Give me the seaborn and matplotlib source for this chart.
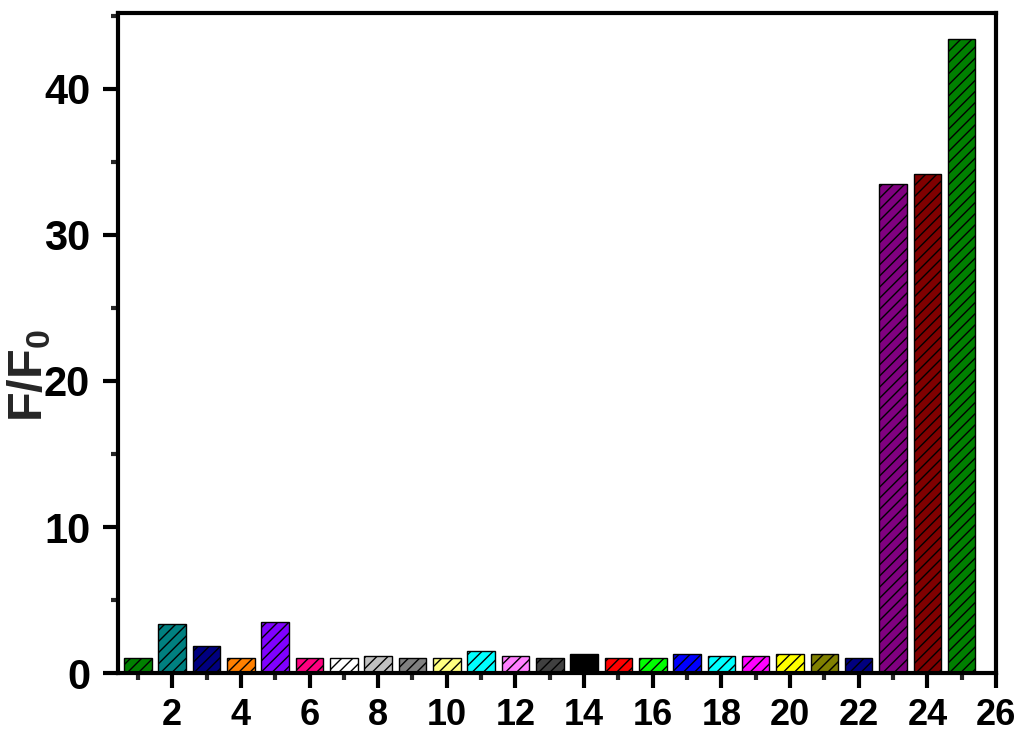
import matplotlib
matplotlib.use("Agg")
import matplotlib.pyplot as plt
from matplotlib.ticker import MultipleLocator
import seaborn as sns

# bar positions and F/F0 values
samples = list(range(1, 26))
ratios = [1.0, 3.35, 1.85, 1.0, 3.5, 1.0, 1.0, 1.2, 1.0, 1.0,
          1.5, 1.15, 1.0, 1.3, 1.0, 1.0, 1.3, 1.2, 1.2, 1.3,
          1.3, 1.0, 33.5, 34.2, 43.4]
bar_colors = ["#008000", "#008080", "#000080", "#FF8000", "#8000FF",
              "#FF0080", "#FFFFFF", "#C0C0C0", "#808080", "#FFFF80",
              "#00FFFF", "#FF80FF", "#404040", "#000000", "#FF0000",
              "#00FF00", "#0000FF", "#00FFFF", "#FF00FF", "#FFFF00",
              "#808000", "#000080", "#800080", "#800000", "#008000"]
x_ticks = list(range(2, 27, 2))
y_ticks = [0, 10, 20, 30, 40]

sns.set_style("white")
plt.rcParams["font.family"] = ["Liberation Sans", "DejaVu Sans"]
plt.rcParams["font.weight"] = "bold"
plt.rcParams["mathtext.fontset"] = "custom"
plt.rcParams["mathtext.bf"] = "Liberation Sans:bold"
plt.rcParams["mathtext.rm"] = "Liberation Sans:bold"
plt.rcParams["hatch.linewidth"] = 1.0

fig = plt.figure(figsize=(10.24, 7.4), dpi=100)
ax = fig.add_axes([0.1152, 0.0905, 0.8575, 0.8919])

sns.barplot(x=samples, y=ratios, hue=samples, palette=bar_colors,
            native_scale=True, dodge=False, width=0.8, legend=False,
            edgecolor="black", linewidth=1.0, saturation=1, ax=ax)

for p in ax.patches:
    p.set_hatch("///")
    p.set_edgecolor("black")

ax.set_xlim(0.42, 26)
ax.set_ylim(0, 45.2)
ax.set_xticks(x_ticks)
ax.xaxis.set_minor_locator(MultipleLocator(1))
ax.set_yticks(y_ticks)
ax.yaxis.set_minor_locator(MultipleLocator(5))

ax.tick_params(axis="both", which="major", direction="out", length=11, width=3,
               colors="black", bottom=True, left=True)
ax.tick_params(axis="both", which="minor", direction="out", length=5, width=3,
               bottom=True, left=True)
ax.tick_params(axis="x", which="major", labelsize=26, pad=7)
ax.tick_params(axis="y", which="major", labelsize=30, pad=9)
for lab in ax.get_xticklabels() + ax.get_yticklabels():
    lab.set_fontweight("bold")

for s in ax.spines.values():
    s.set_visible(True)
    s.set_linewidth(3)
    s.set_color("black")

ax.set_xlabel("")
ax.set_ylabel(r"F/F$_\mathbf{0}$", fontsize=35, fontweight="bold")
ax.yaxis.set_label_coords(-0.074, 0.45)

fig.savefig("out.png", dpi=100)
